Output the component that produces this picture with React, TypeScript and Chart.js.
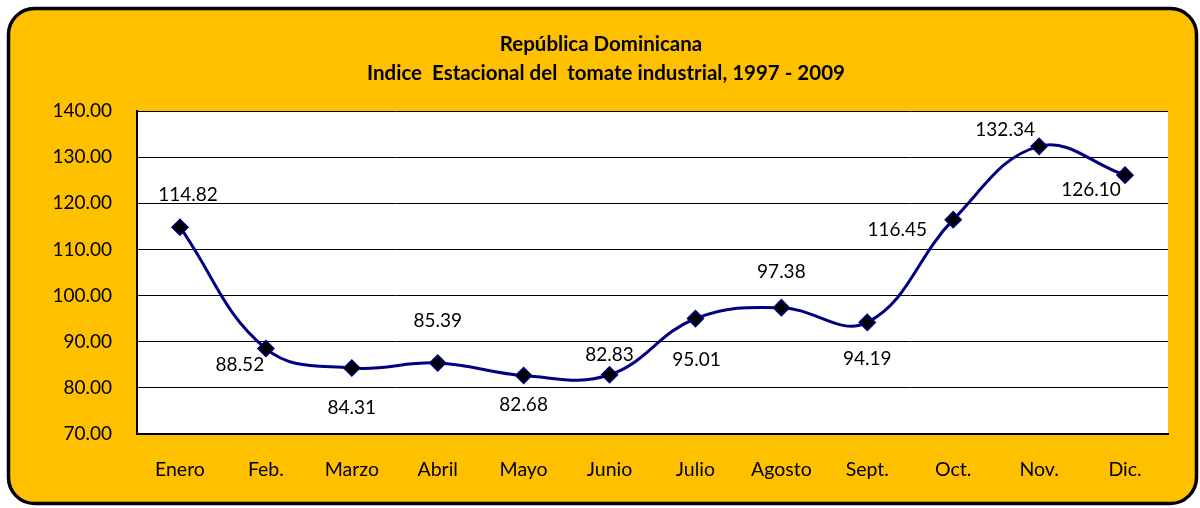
import React, { useEffect, useRef } from 'react';
import { Chart, registerables } from 'chart.js';

Chart.register(...registerables);

const months = ['Enero', 'Feb.', 'Marzo', 'Abril', 'Mayo', 'Junio', 'Julio', 'Agosto', 'Sept.', 'Oct.', 'Nov.', 'Dic.'];
const indexValues = [114.82, 88.52, 84.31, 85.39, 82.68, 82.83, 95.01, 97.38, 94.19, 116.45, 132.34, 126.1];
const yMin = 70;
const yMax = 140;
const yStep = 10;
const titleLines = ['República Dominicana', 'Indice  Estacional del  tomate industrial, 1997 - 2009'];

// label placement relative to the point (style only)
const labelOffsets: [number, number][] = [
  [8, -32], [-26, 16], [0, 40], [0, -42], [0, 29], [0, -20],
  [1, 41], [0, -36], [0, 36], [-56, 10], [-34, -16], [-34, 15],
];

const FONT = 'Lato, "Open Sans", sans-serif';

const framePlugin = {
  id: 'frame',
  beforeDraw(chart: any) {
    const { ctx, chartArea, width, height } = chart;
    ctx.save();
    ctx.fillStyle = '#ffffff';
    ctx.fillRect(0, 0, width, height);
    const x = 8.5, y = 8.5, w = 1188, h = 495, r = 26;
    ctx.beginPath();
    ctx.moveTo(x + r, y);
    ctx.lineTo(x + w - r, y);
    ctx.arcTo(x + w, y, x + w, y + r, r);
    ctx.lineTo(x + w, y + h - r);
    ctx.arcTo(x + w, y + h, x + w - r, y + h, r);
    ctx.lineTo(x + r, y + h);
    ctx.arcTo(x, y + h, x, y + h - r, r);
    ctx.lineTo(x, y + r);
    ctx.arcTo(x, y, x + r, y, r);
    ctx.closePath();
    ctx.fillStyle = '#FFC000';
    ctx.fill();
    ctx.lineWidth = 3.5;
    ctx.strokeStyle = '#000000';
    ctx.stroke();
    ctx.fillStyle = '#ffffff';
    ctx.fillRect(chartArea.left, chartArea.top, chartArea.right - chartArea.left, chartArea.bottom - chartArea.top);
    ctx.restore();
  },
  afterDatasetsDraw(chart: any) {
    const { ctx } = chart;
    const meta = chart.getDatasetMeta(0);
    ctx.save();
    ctx.font = '19px ' + FONT;
    ctx.fillStyle = '#000000';
    ctx.textAlign = 'center';
    ctx.textBaseline = 'middle';
    meta.data.forEach((pt: any, i: number) => {
      const [dx, dy] = labelOffsets[i];
      ctx.fillText(indexValues[i].toFixed(2), pt.x + dx, pt.y + dy);
    });
    ctx.restore();
  },
  afterDraw(chart: any) {
    const { ctx } = chart;
    ctx.save();
    ctx.font = 'bold 20.5px ' + FONT;
    ctx.fillStyle = '#000000';
    ctx.textAlign = 'center';
    ctx.textBaseline = 'middle';
    ctx.fillText(titleLines[0], 601, 44);
    ctx.fillText(titleLines[1], 606, 73);
    ctx.restore();
  },
};

export default function App() {
  const canvasRef = useRef<HTMLCanvasElement | null>(null);

  useEffect(() => {
    if (!canvasRef.current) return;
    const chart = new Chart(canvasRef.current, {
      type: 'line',
      data: {
        labels: months,
        datasets: [
          {
            data: indexValues,
            borderColor: '#000080',
            borderWidth: 3,
            tension: 0.4,
            pointStyle: 'rectRot',
            pointRadius: 8,
            pointBackgroundColor: '#000000',
            pointBorderColor: '#000080',
            pointBorderWidth: 1.5,
            fill: false,
          },
        ],
      },
      options: {
        animation: false,
        responsive: false,
        layout: { padding: { top: 111, right: 32, bottom: 0, left: 0 } },
        plugins: { legend: { display: false }, title: { display: false }, tooltip: { enabled: false } },
        scales: {
          x: {
            offset: true,
            grid: { display: false, drawTicks: false },
            border: { display: true, color: '#000000', width: 2 },
            ticks: { color: '#000000', font: { family: FONT, size: 19.5 }, padding: 24, maxRotation: 0 },
            afterFit(scale: any) { scale.height = 74; },
          },
          y: {
            min: yMin,
            max: yMax,
            grid: { color: '#000000', lineWidth: 1, drawTicks: false },
            border: { display: true, color: '#000000', width: 2 },
            ticks: {
              stepSize: yStep,
              color: '#000000',
              font: { family: FONT, size: 19 },
              padding: 25,
              callback: (v: any) => Number(v).toFixed(2),
            },
            afterFit(scale: any) { scale.width = 137; },
          },
        },
      },
      plugins: [framePlugin],
    });
    return () => chart.destroy();
  }, []);

  return (
    <div style={{ position: 'absolute', left: 0, top: 0, width: 1200, height: 508 }}>
      <canvas ref={canvasRef} width={1200} height={508} style={{ display: 'block', width: 1200, height: 508 }} />
    </div>
  );
}
